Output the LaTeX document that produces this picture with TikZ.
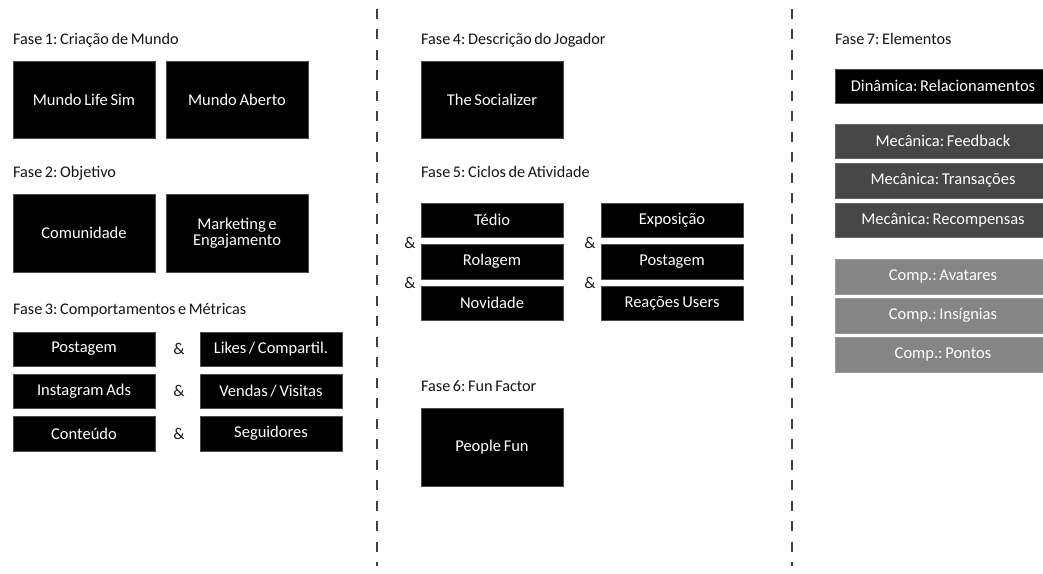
\documentclass[tikz,border=0pt]{standalone}
\usepackage{fontspec}
\setmainfont{Carlito}[WordSpace=0.72]
\frenchspacing
\begin{document}
\begin{tikzpicture}[x=1pt,y=-1pt,
  every node/.style={font=\fontsize{16.5}{17}\selectfont},
  title/.style={anchor=base west, inner sep=0pt, text=black!92, font=\fontsize{16.2}{17}\selectfont},
  blk/.style={fill=black, text=white, inner sep=0pt, align=center, draw=black!70, line width=0.4pt},
  mech/.style={fill=black!72, text=white, inner sep=0pt, draw=black!60, line width=0.4pt},
  comp/.style={fill=black!48, text=white, inner sep=0pt, draw=black!40, line width=0.4pt},
  amp/.style={inner sep=0pt, text=black!90},
  sep/.style={line width=1.6pt, black!75, dash pattern=on 10pt off 10.5pt}]
\useasboundingbox (0,0) rectangle (1043,573);
\clip (0,0) rectangle (1043,573);
\fill[white] (0,0) rectangle (1043,573);

% column separators
\coordinate (s1a) at (377,8.5);  \coordinate (s1b) at (377,566);
\coordinate (s2a) at (792,8.5);  \coordinate (s2b) at (792,566);
\draw[sep] (s1a) -- (s1b);
\draw[sep] (s2a) -- (s2b);

% ---- Fase 1 ----
\node[title] (t1) at (13,44) {Fase 1: Criação de Mundo};
\node[blk, minimum width=142, minimum height=77] (lifesim) at (84,99.5) {Mundo Life Sim};
\node[blk, minimum width=142, minimum height=77] (aberto) at (237,99.5) {Mundo Aberto};

% ---- Fase 2 ----
\node[title] (t2) at (13,177) {Fase 2: Objetivo};
\node[blk, minimum width=142, minimum height=78] (comun) at (84,233) {Comunidade};
\node[blk, minimum width=142, minimum height=78, font=\fontsize{16.5}{16}\selectfont] (mkt) at (237,233) {Marketing e\\Engajamento};

% ---- Fase 3 ----
\node[title] (t3) at (13,314.5) {Fase 3: Comportamentos e Métricas};
\node[blk, minimum width=142, minimum height=34.5] (post) at (84,349) {Postagem};
\node[blk, minimum width=142, minimum height=34.5] (ads) at (84,391) {Instagram Ads};
\node[blk, minimum width=142, minimum height=34.5] (cont) at (84,433.5) {Conteúdo};
\node[blk, minimum width=142, minimum height=34.5] (likes) at (271,349) {Likes / Compartil.};
\node[blk, minimum width=142, minimum height=34.5] (vendas) at (271,391) {Vendas / Visitas};
\node[blk, minimum width=142, minimum height=34.5] (seg) at (271,433.5) {Seguidores};
\node[amp] (a1) at (179,349) {\&};
\node[amp] (a2) at (179,391) {\&};
\node[amp] (a3) at (179,433.5) {\&};

% ---- Fase 4 ----
\node[title] (t4) at (421,44) {Fase 4: Descrição do Jogador};
\node[blk, minimum width=142, minimum height=77] (social) at (492,99.5) {The Socializer};

% ---- Fase 5 ----
\node[title] (t5) at (421,177) {Fase 5: Ciclos de Atividade};
\node[blk, minimum width=142, minimum height=34.5] (tedio) at (492,220) {Tédio};
\node[blk, minimum width=142, minimum height=34.5] (rol) at (492,261.5) {Rolagem};
\node[blk, minimum width=142, minimum height=34.5] (nov) at (492,303) {Novidade};
\node[blk, minimum width=142, minimum height=34.5] (expo) at (672,220) {Exposição};
\node[blk, minimum width=142, minimum height=34.5] (post2) at (672,261.5) {Postagem};
\node[blk, minimum width=142, minimum height=34.5] (reac) at (672,303) {Reações Users};
\node[amp] (a4) at (410,242.5) {\&};
\node[amp] (a5) at (410,283) {\&};
\node[amp] (a6) at (590,242.5) {\&};
\node[amp] (a7) at (590,283) {\&};

% ---- Fase 6 ----
\node[title] (t6) at (421,391) {Fase 6: Fun Factor};
\node[blk, minimum width=142, minimum height=78] (fun) at (492,447) {People Fun};

% ---- Fase 7 ----
\node[title] (t7) at (835,44) {Fase 7: Elementos};
\node[blk, minimum width=216, minimum height=34.5] (din) at (943,86) {Dinâmica: Relacionamentos};
\node[mech, minimum width=216, minimum height=34.5] (m1) at (943,141) {Mecânica: Feedback};
\node[mech, minimum width=216, minimum height=34.5] (m2) at (943,180.5) {Mecânica: Transações};
\node[mech, minimum width=216, minimum height=34.5] (m3) at (943,220) {Mecânica: Recompensas};
\node[comp, minimum width=216, minimum height=34.5] (c1) at (943,276.5) {Comp.: Avatares};
\node[comp, minimum width=216, minimum height=34.5] (c2) at (943,315.5) {Comp.: Insígnias};
\node[comp, minimum width=216, minimum height=34.5] (c3) at (943,354.5) {Comp.: Pontos};
\end{tikzpicture}
\end{document}
